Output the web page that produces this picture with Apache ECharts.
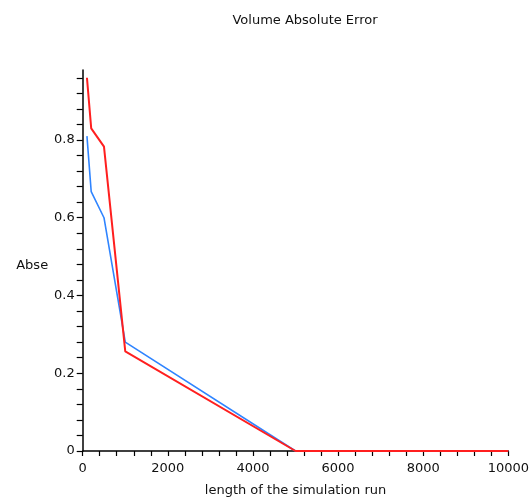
<!DOCTYPE html>
<html>
<head>
<meta charset="utf-8">
<script src="https://cdn.jsdelivr.net/npm/echarts@6/dist/echarts.min.js"></script>
<style>
  html, body { margin: 0; padding: 0; background: #fff; }
  #chart { width: 532px; height: 502px; }
</style>
</head>
<body>
<div id="chart"></div>
<script>
// Run lengths and absolute volume error for the two runs
var runLength = [100, 200, 500, 1000, 5000, 10000];
var errorBlue = [0.81, 0.667, 0.60, 0.28, 0, 0];
var errorRed  = [0.96, 0.83, 0.783, 0.256, 0, 0];
var xLabelStep = 2000;
var yLabelStep = 0.2;

function pairs(xs, ys) {
  return xs.map(function (x, i) { return [x, ys[i]]; });
}

var font = 'DejaVu Sans';
var textColor = '#111';
var chart = echarts.init(document.getElementById('chart'), null, { renderer: 'canvas' });

chart.setOption({
  animation: false,
  backgroundColor: '#ffffff',
  title: {
    text: 'Volume Absolute Error',
    left: 300,
    top: 9,
    textAlign: 'center',
    textStyle: { fontFamily: font, fontSize: 13, fontWeight: 'normal', color: textColor }
  },
  grid: { left: 82.7, right: 21.3, top: 70, bottom: 50, containLabel: false },
  xAxis: {
    type: 'value',
    min: 0,
    max: 10000,
    interval: 400,
    name: 'length of the simulation run',
    nameLocation: 'middle',
    nameGap: 33,
    nameTextStyle: { fontFamily: font, fontSize: 13, color: textColor },
    axisLine: { show: true, onZero: false, lineStyle: { color: '#000', width: 1.5 } },
    axisTick: { show: true, inside: false, length: 5, lineStyle: { color: '#000', width: 1.2 } },
    splitLine: { show: false },
    axisLabel: {
      margin: 11,
      fontFamily: font, fontSize: 13, color: textColor,
      formatter: function (v) {
        var k = v / xLabelStep;
        return Math.abs(k - Math.round(k)) < 1e-6 ? String(v) : '';
      }
    }
  },
  yAxis: {
    type: 'value',
    min: 0,
    max: 0.98,
    interval: 0.04,
    name: 'Abse',
    nameLocation: 'middle',
    nameRotate: 0,
    nameGap: 34,
    nameTextStyle: { fontFamily: font, fontSize: 13, color: textColor, verticalAlign: 'top', lineHeight: 10 },
    axisLine: { show: true, onZero: false, lineStyle: { color: '#000', width: 1.5 } },
    axisTick: { show: true, inside: false, length: 6, lineStyle: { color: '#000', width: 1.2 } },
    splitLine: { show: false },
    axisLabel: {
      margin: 8,
      showMaxLabel: false,
      fontFamily: font, fontSize: 13, color: textColor,
      formatter: function (v) {
        var k = v / yLabelStep;
        if (Math.abs(k - Math.round(k)) > 1e-6) return '';
        return String(Math.round(k) * 2 / 10);
      }
    }
  },
  series: [
    {
      type: 'line',
      data: pairs(runLength, errorBlue),
      symbol: 'none',
      lineStyle: { color: '#2f84ff', width: 1.6 },
      z: 2
    },
    {
      type: 'line',
      data: pairs(runLength, errorRed),
      symbol: 'none',
      lineStyle: { color: '#ff1f1f', width: 2 },
      z: 3
    }
  ]
});
</script>
</body>
</html>
